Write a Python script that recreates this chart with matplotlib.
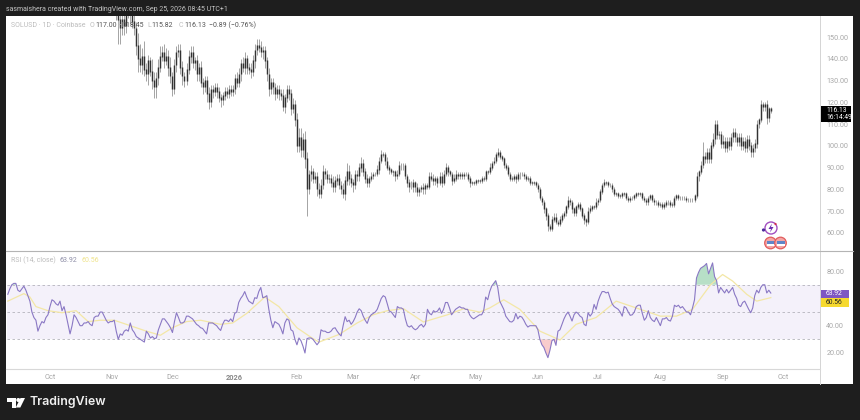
import numpy as np
import matplotlib
matplotlib.use("Agg")
import matplotlib.pyplot as plt
from matplotlib.patches import Rectangle, Circle, Polygon

# ---- data: day index 0 = 1 Oct 2025 ----
first_close = 168
closes = [
 # Nov (from day 33)
 164,158,154,158,155,161,164,160,157,154,146,140,137,141,135,133,139,134,130,127,131,136,141,143,139,141,136,132,
 # Dec
 126,137,143,144,136,132,130,135,141,143,138,139,133,136,129,127,130,124,120,126,125,127,125,122,121,123,125,124,126,125,126,
 # Jan
 131,129,133,138,136,140,136,135,134,139,144,146,145,143,144,139,133,126,129,127,124,126,124,123,118,122,126,124,117,119,112,
 # Feb
 100,104,98,103,94,80,87,88,85,86,80,78,82,88,87,85,85,83,81,84,85,82,80,78,84,88,85,83,
 # Mar
 82,87,86,90,92,88,85,83,85,86,87,87,89,93,96,96,93,90,89,88,88,86,87,91,91,91,86,83,81,81,83,
 # Apr
 81,79,80,81,80,82,81,86,85,84,85,83,86,83,87,90,88,87,84,85,87,86,87,86,87,87,85,83,83,83,
 # May
 84,84,84,85,85,88,88,90,92,93,96,97,95,94,91,90,87,85,85,86,85,87,87,87,86,85,85,83,83,83,82,
 # Jun
 80,76,74,71,68,63,62,66,67,65,64,66,68,69,72,75,74,71,69,72,73,71,68,66,65,70,71,72,72,74,
 # Jul
 75,79,82,83,83,82,82,80,78,78,77,77,78,78,76,75,76,76,77,78,78,78,76,75,74,76,77,75,74,74,73,
 # Aug
 73,72,73,74,74,73,73,76,77,76,76,76,76,75,75,75,75,77,86,88,91,95,94,97,94,100,103,110,105,105,101,
 # Sep
 102,99,102,100,104,106,104,102,104,100,102,99,103,100,97,99,101,110,112,119,118,119,113,117,116.13,
]
wick_up = [
 3,5,6,3,5,4,3,6,4,5,3,6,7,4,7,3,3,2,6,4,3,4,5,3,4,4,3,5,
 2,3,3,3,3,3,2,3,3,3,3,2,3,2,3,2,2,2,3,2,2,2,2,2,2,2,2,2,2,2,2,
 2,3,3,2,3,3,2,2,3,3,3,3,3,3,2,2,2,3,2,2,2,2,2,2,3,2,2,2,2,3,2,
 3,4,4,3,4,3,2,3,2,2,2,3,3,3,2,2,2,2,3,2,2,2,2,3,2,4,3,2,
 2,2,2,2,3,2,2,2,1,2,1,1,2,2,2,1,1,2,1,1,1,1,2,2,1,1,1,1,2,3,2,
 1,2,1,1,2,1,1,2,2,2,1,1,2,2,2,2,1,1,1,2,2,1,1,1,1,1,1,1,1,1,
 1,1,1,1,1,1,1,2,1,2,1,2,1,1,1,1,1,1,1,1,1,1,1,1,1,1,1,1,1,1,1,
 1,1,1,1,1,1,1,2,2,2,1,2,1,1,1,2,1,1,1,1,1,1,1,1,1,2,2,1,1,2,
 1,1,1,2,1,1,1,1,1,1,1,1,1,1,1,1,1,1,1,1,1,1,1,1,1,1,1,1,1,1,1,
 1,1,1,1,1,1,1,1,1,1,1,1,1,1,1,1,1,1,2,1,2,7,2,2,2,2,3,2,2,2,2,
 3,2,2,2,2,2,2,2,2,2,2,2,2,2,2,2,2,2,1,2,1,1,2,1,1,
]
wick_dn = [
 6,11,7,3,4,3,2,4,3,3,4,6,3,4,3,3,5,2,4,5,5,3,2,2,3,2,4,3,
 3,2,3,2,3,4,3,2,2,3,2,3,3,3,2,3,2,4,3,2,3,2,3,2,3,2,2,2,2,2,2,
 2,2,2,3,2,3,3,2,3,2,3,2,2,2,3,3,3,3,2,3,3,2,3,2,2,3,2,3,3,2,3,
 3,3,3,3,4,12,2,3,2,2,3,2,2,2,2,2,2,2,2,2,2,2,2,2,3,2,3,2,
 3,2,2,2,2,2,2,2,2,1,1,1,1,2,1,1,2,1,2,1,2,2,1,1,2,2,1,2,2,1,2,
 2,2,2,1,2,2,1,1,1,2,2,2,1,2,1,1,2,1,2,1,1,1,1,1,1,1,1,2,1,1,
 1,1,1,1,1,1,1,1,1,1,1,1,1,1,1,1,1,1,1,1,2,1,2,1,1,1,1,1,1,1,1,
 1,1,1,2,2,2,1,1,1,1,1,1,1,1,1,1,1,2,1,1,1,1,1,2,2,1,1,1,1,1,
 1,1,1,1,1,1,1,1,1,1,1,1,1,1,1,1,1,1,1,1,1,1,1,1,1,1,1,1,1,1,1,
 1,1,1,1,1,1,1,1,1,1,1,1,1,1,1,1,1,1,1,2,1,1,2,2,2,2,1,2,2,2,2,
 2,2,2,2,2,2,2,2,2,2,2,2,2,2,2,2,2,2,2,1,2,2,3,2,1,
]
rsi = [
 # Sep 2025 (from day -21)
 63,67,70,71,71,66,65,67,69,66,62,58,50,46,44,36,40,43,42,46,48,
 # Oct
 54,59,58,56,55,58,51,54,48,41,34,40,48,46,43,40,40,42,42,43,41,40,46,47,47,50,50,47,44,42,43,
 # Nov
 43,44,36,30,34,33,36,37,36,42,37,35,32,31,30,29,28,36,34,31,32,30.5,31,37,41,45,45,43,41,38.5,
 # Dec
 35,43,49.5,46,42,42,43,47,47,46,45,43,41,40,38.5,38,36,34,42,42,42,41,40,38,36.5,41,44,44,43,45,43,
 # Jan
 49,50,57,60,62,65,61,58,57,56,60.5,60,65,68,60.5,61,62,52,44,38.5,43,42,41,38,34,42,45,44,37,36,30,
 # Feb
 26,31,29,25,20,30.5,31,31,30,28,26,28,37,36,36,35,35,36,38,38.5,36,34,32.5,40,46.6,43,44,41,
 # Mar
 43,46,50,52.4,51,47,44,41.7,46,48,49,50,52,56,60,62,61,56,50.7,50,48,46,54,53,53,52,45,40,39,40,38,
 # Apr
 37,38,40,41,39,41,52,49,48,51,50,50.7,53,49,52,57,57,53,48,50,52,53,54,53,53,52,52,48,46,45,
 # May
 46,47,48,48,51,61,59,65,69,71,73,68,58,55,52,47,45,43,42.7,44,49,45,47,46.3,44,41,39,40,40,40,40,
 # Jun
 37,30,26,24,20,16.6,22,29,30,25.6,36,37,41,45,48,50,47,43.4,48,50,49,47,46,41,40,49.5,47,49,55.6,52,
 # Jul
 58,62,65,65,64,64.6,60,56,54,53,52,50,47,54,53,50,47.6,48,50,54,55,55,49,44,46,51,46,44,43,46,43,
 # Aug
 40,45,45,46,44,43.4,47,55,54,55,53,54,52,50,50,48,53,59,75,79,82,83,84,85.6,78,82,86,76,73,64,68,
 # Sep
 66,64,66.6,64,66,68,63,60,55,54,57,58,55,52,49.5,53,62,66,64,68,70,70,64,66,63.92,
]
ma_days = [-21,-13,-10,-7,-1,6,13,19,25,32,38,48,55,61,68,75,85,91,98,107,114,123,131,134,144,153,161,168,
           176,186,198,206,214,219,226,234,244,254,262,272,282,290,304,312,320,329,335,340,347,352,359]
ma_vals = [58,63.5,61,54,51,49.5,51,43,44,44,41,36,33,38.5,43,44,41,42,49,61,54,38.5,30.5,28,33.6,42,48,51,
           52.5,42.7,48,52.4,50,53,59,52,36,29.5,41,46,58,54,47,47,52,70,77.5,72.7,63,58,60.56]
month_days = [0,31,61,92,123,151,182,212,243,273,304,335,365]
month_labels = ["Oct","Nov","Dec","2026","Feb","Mar","Apr","May","Jun","Jul","Aug","Sep","Oct"]
price_ticks = [60,70,80,90,100,110,120,130,140,150]
rsi_ticks = [20,40,80]
rsi_levels = [70,50,30]

plt.rcParams['font.family'] = ['Roboto', 'DejaVu Sans']
W, H = 860, 420
fig = plt.figure(figsize=(W/100, H/100), dpi=100, facecolor='#1e1e1e')

def pane(x0, y0, x1, y1, z):
    a = fig.add_axes([x0/W, 1-y1/H, (x1-x0)/W, (y1-y0)/H], zorder=z)
    a.patch.set_alpha(0)
    return a

bg = pane(0, 0, W, H, 0); bg.set_xlim(0, W); bg.set_ylim(H, 0); bg.axis('off')
bg.add_patch(Rectangle((6, 16), 847, 368, fc='white', ec='none'))

XLIM = (-21.4, 383.5)
TXT = '#a8a8a8'

# price pane
ax = pane(7, 16, 820, 251, 1)
c = np.array(closes, float)
o = np.r_[first_close, c[:-1]]
d = np.arange(33, 33+len(c))
hi = np.maximum(o, c) + np.array(wick_up)
lo = np.minimum(o, c) - np.array(wick_dn)
ax.vlines(d, lo, hi, color='#808080', lw=0.5)
ax.vlines(d, np.minimum(o, c), np.maximum(o, c)+0.25, color='#333333', lw=1.05)
ax.set_xlim(*XLIM); ax.set_ylim(51.7, 159.7)
ax.set_xticks([]); ax.yaxis.tick_right()
ax.set_yticks(price_ticks, [f"{v:.2f}" for v in price_ticks])
ax.tick_params(axis='y', length=0, pad=4.5, labelsize=5.2, labelcolor=TXT)
for s in ax.spines.values(): s.set_visible(False)

# RSI pane
ar = pane(7, 252, 820, 368, 1)
r = np.array(rsi, float)
dr = np.arange(-21, -21+len(r))
ar.axhspan(30, 70, fc='#7E57C2', alpha=0.08, lw=0)
for lv in rsi_levels:
    ar.axhline(lv, color='#b4b4bc', lw=0.6, ls=(0, (3, 3)))
ar.fill_between(dr, 70, r, where=r > 70, interpolate=True, color='#7CC59A', alpha=0.55, lw=0)
ar.fill_between(dr, 30, r, where=(r < 30) & (dr > 240), interpolate=True, color='#F49A9A', alpha=0.5, lw=0)
ar.plot(ma_days, ma_vals, color='#F3E7A6', lw=0.9)
ar.plot(dr, r, color='#8A78C4', lw=0.8)
ar.set_xlim(*XLIM); ar.set_ylim(9, 94)
ar.yaxis.tick_right()
ar.set_yticks(rsi_ticks, [f"{v:.2f}" for v in rsi_ticks])
ar.set_xticks(month_days, month_labels)
ar.tick_params(axis='y', length=0, pad=4.5, labelsize=5.2, labelcolor=TXT)
ar.tick_params(axis='x', length=0, pad=4, labelsize=5.3, labelcolor=TXT)
for t in ar.get_xticklabels():
    if t.get_text() == '2026':
        t.set_fontweight('bold'); t.set_color('#888888')
for s in ar.spines.values(): s.set_visible(False)

# overlay in pixels
ov = pane(0, 0, W, H, 3); ov.set_xlim(0, W); ov.set_ylim(H, 0); ov.axis('off')
ov.plot([820, 820], [16, 384], color='#d4d4d4', lw=0.7)
ov.plot([6, 853], [251, 251], color='#b4b4b4', lw=0.8)
ov.plot([6, 820], [368.5, 368.5], color='#d8d8d8', lw=0.8)

ov.text(6, 9.5, "sasmaishera created with TradingView.com, Sep 25, 2026 08:45 UTC+1",
        color='#c4c4c4', fontsize=5.05, va='center')
ov.text(11, 25.5, "SOLUSD · 1D · Coinbase", color='#bdbdbd', fontsize=5.0, va='center')
for txt, col, x in [("O", '#bdbdbd', 90), ("117.00", '#555555', 95), ("H", '#bdbdbd', 117),
                    ("118.45", '#555555', 122), ("L", '#bdbdbd', 147), ("115.82", '#555555', 151),
                    ("C", '#bdbdbd', 179), ("116.13", '#555555', 184), ("−0.89 (−0.76%)", '#555555', 209)]:
    ov.text(x, 25.5, txt, color=col, fontsize=5.0, va='center')
ov.text(11, 260.5, "RSI (14, close)", color='#bdbdbd', fontsize=5.0, va='center')
ov.text(60, 260.5, "63.92", color='#8f8fa8', fontsize=5.0, va='center')
ov.text(82, 260.5, "60.56", color='#efe38a', fontsize=5.0, va='center')

# price tag
ov.add_patch(Rectangle((821, 106), 30, 16, fc='black', ec='none'))
ov.text(826, 110.2, "116.13", color='white', fontsize=4.9, va='center')
ov.text(826, 117.8, "16:14:49", color='white', fontsize=4.9, va='center')
# RSI tags
ov.add_patch(Rectangle((821, 290), 28, 7.5, fc='#7E57C2', ec='none'))
ov.text(826, 293.8, "63.92", color='white', fontsize=4.9, va='center')
ov.add_patch(Rectangle((821, 298), 28, 9, fc='#F6D92E', ec='none'))
ov.text(826, 302.5, "60.56", color='#222222', fontsize=4.9, va='center')

# icons
ov.add_patch(Circle((771, 228), 6, fc='white', ec='#a24fc0', lw=1))
ov.add_patch(Polygon([[772, 223.5], [768.5, 229], [771, 229], [770, 232.5], [773.5, 227], [771, 227]], fc='#6a2fb0', ec='none'))
ov.add_patch(Circle((763.5, 230), 1.6, fc='#4a2a9a', ec='none'))
ov.add_patch(Circle((775.5, 224), 1.1, fc='#d8324a', ec='none'))
for cx in (770.5, 780.5):
    ov.add_patch(Circle((cx, 243), 5.8, fc='#f4a6a6', ec='#e25c5c', lw=0.9))
    ov.add_patch(Rectangle((cx-4, 241), 8, 3, fc='#5f86c8', ec='none'))
    ov.add_patch(Rectangle((cx-4, 244.3), 8, 1.4, fc='white', ec='none'))

# TradingView logo
ov.add_patch(Polygon([[7, 398], [16, 398], [16, 407.5], [11.5, 407.5], [11.5, 402.2], [7, 402.2]], fc='white', ec='none'))
ov.add_patch(Circle((18.3, 400), 2.0, fc='white', ec='none'))
ov.add_patch(Polygon([[20.5, 398], [25, 398], [20.3, 407.5], [15.8, 407.5]], fc='white', ec='none'))
ov.text(29.5, 402.5, "TradingView", color='#f0f0f0', fontsize=8.9, va='center', fontweight='semibold', family=['Inter', 'DejaVu Sans'])

fig.savefig('out.png', dpi=100, facecolor=fig.get_facecolor())
